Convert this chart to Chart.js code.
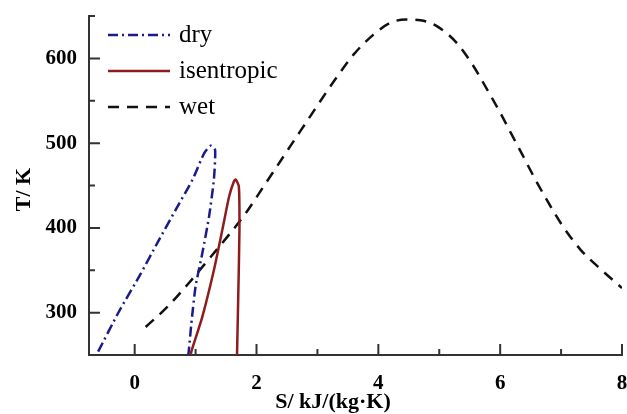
<!DOCTYPE html>
<html>
<head>
<meta charset="utf-8">
<script src="https://cdn.jsdelivr.net/npm/chart.js@4/dist/chart.umd.min.js"></script>
<style>
  html, body { margin: 0; padding: 0; background: #fff; }
  canvas { display: block; }
</style>
</head>
<body>
<canvas id="tsChart" width="627" height="414"></canvas>
<script>
// T-S saturation curves
const drySPts = [-0.6, -0.26, 0.1, 0.37, 0.67, 0.95, 1.14, 1.25, 1.32, 1.3, 1.22, 1.11, 1.0, 0.93, 0.89, 0.88];
const dryTPts = [254, 301, 346, 382, 421, 457, 488, 497, 492, 457, 413, 370, 331, 287, 256, 250];

const isenSPts = [0.92, 0.93, 1.11, 1.30, 1.44, 1.55, 1.63, 1.66, 1.71, 1.72, 1.70, 1.68];
const isenTPts = [250, 254, 295, 350, 398, 437, 455, 457, 449, 398, 319, 250];

const wetSPts = [0.18, 0.54, 0.89, 1.25, 1.55, 1.84, 2.09, 2.34, 2.56, 2.83, 3.08, 3.32, 3.6, 3.92, 4.2, 4.45, 4.69, 4.96, 5.29, 5.56, 5.78, 6.0, 6.19, 6.36, 6.57, 6.79, 7.01, 7.31, 7.67, 8.0];
const wetTPts = [283, 307, 335, 366, 392, 419, 446, 473, 497, 526, 553, 578, 605, 628, 642, 646, 645, 638, 618, 591, 564, 536, 510, 487, 458, 430, 404, 375, 350, 329];

const seriesNames = ['dry', 'isentropic', 'wet'];

const xMajorTicks = [0, 2, 4, 6, 8];
const xMinorTicks = [1, 3, 5, 7];
const yMajorTicks = [300, 400, 500, 600];
const yMinorTicks = [350, 450, 550, 650];

const xTitle = 'S/ kJ/(kg·K)';
const yTitle = 'T/ K';

const toPoints = (xs, ys) => xs.map((x, i) => ({ x: x, y: ys[i] }));

// inward tick marks, legend inside the plot and axis titles
const decorPlugin = {
    id: 'decor',
    afterDraw(chart) {
        const ctx = chart.ctx;
        const area = chart.chartArea;
        const xs = chart.scales.x;
        const ys = chart.scales.y;

        ctx.save();
        ctx.strokeStyle = '#333';
        ctx.lineWidth = 2;
        ctx.beginPath();
        xMajorTicks.forEach(v => {
            const px = xs.getPixelForValue(v);
            ctx.moveTo(px, area.bottom);
            ctx.lineTo(px, area.bottom - 11);
        });
        xMinorTicks.forEach(v => {
            const px = xs.getPixelForValue(v);
            ctx.moveTo(px, area.bottom);
            ctx.lineTo(px, area.bottom - 6);
        });
        yMajorTicks.forEach(v => {
            const py = ys.getPixelForValue(v);
            ctx.moveTo(area.left, py);
            ctx.lineTo(area.left + 11, py);
        });
        yMinorTicks.forEach(v => {
            const py = ys.getPixelForValue(v);
            ctx.moveTo(area.left, py);
            ctx.lineTo(area.left + 6, py);
        });
        ctx.stroke();

        // legend
        chart.data.datasets.forEach((ds, i) => {
            const ly = area.top + 19 + i * 36;
            ctx.strokeStyle = ds.borderColor;
            ctx.lineWidth = ds.borderWidth;
            ctx.setLineDash(ds.borderDash || []);
            ctx.beginPath();
            ctx.moveTo(area.left + 19, ly);
            ctx.lineTo(area.left + 81, ly);
            ctx.stroke();
            ctx.setLineDash([]);
            ctx.fillStyle = '#000';
            ctx.font = '25px "Liberation Serif"';
            ctx.textAlign = 'left';
            ctx.textBaseline = 'middle';
            ctx.fillText(ds.label, area.left + 90, ly);
        });

        // axis titles
        ctx.fillStyle = '#000';
        ctx.font = 'bold 22px "Liberation Serif"';
        ctx.textAlign = 'center';
        ctx.textBaseline = 'alphabetic';
        ctx.fillText(xTitle, 333, area.bottom + 53);

        ctx.translate(30, (area.top + area.bottom) / 2 + 4);
        ctx.rotate(-Math.PI / 2);
        ctx.fillText(yTitle, 0, 0);
        ctx.restore();
    }
};

const ctx = document.getElementById('tsChart');
new Chart(ctx, {
    type: 'scatter',
    data: {
        datasets: [
            {
                label: seriesNames[0],
                data: toPoints(drySPts, dryTPts),
                showLine: true,
                borderColor: '#1b1b8c',
                borderWidth: 2.5,
                borderDash: [10, 4, 2, 4],
                pointRadius: 0,
                tension: 0.2
            },
            {
                label: seriesNames[1],
                data: toPoints(isenSPts, isenTPts),
                showLine: true,
                borderColor: '#8e1c1c',
                borderWidth: 2.5,
                pointRadius: 0,
                tension: 0.2
            },
            {
                label: seriesNames[2],
                data: toPoints(wetSPts, wetTPts),
                showLine: true,
                borderColor: '#111',
                borderWidth: 2.5,
                borderDash: [11, 8],
                pointRadius: 0,
                cubicInterpolationMode: 'monotone'
            }
        ]
    },
    options: {
        responsive: false,
        animation: false,
        layout: { padding: { top: 16, right: 5, left: 0, bottom: 0 } },
        plugins: {
            legend: { display: false },
            tooltip: { enabled: false }
        },
        scales: {
            x: {
                type: 'linear',
                min: -0.75,
                max: 8,
                afterFit: s => { s.height = 59; s.paddingLeft = 0; s.paddingRight = 0; },
                afterBuildTicks: s => { s.ticks = xMajorTicks.map(v => ({ value: v })); },
                grid: { display: false },
                border: { display: true, color: '#333', width: 2 },
                ticks: {
                    color: '#000',
                    padding: 8,
                    font: { family: 'Liberation Serif', size: 21, weight: 'bold' }
                }
            },
            y: {
                type: 'linear',
                min: 250,
                max: 650,
                afterFit: s => { s.width = 89; s.paddingTop = 0; s.paddingBottom = 0; },
                afterBuildTicks: s => { s.ticks = yMajorTicks.map(v => ({ value: v })); },
                grid: { display: false },
                border: { display: true, color: '#333', width: 2 },
                ticks: {
                    color: '#000',
                    padding: 4,
                    font: { family: 'Liberation Serif', size: 21, weight: 'bold' }
                }
            }
        }
    },
    plugins: [decorPlugin]
});
</script>
</body>
</html>
